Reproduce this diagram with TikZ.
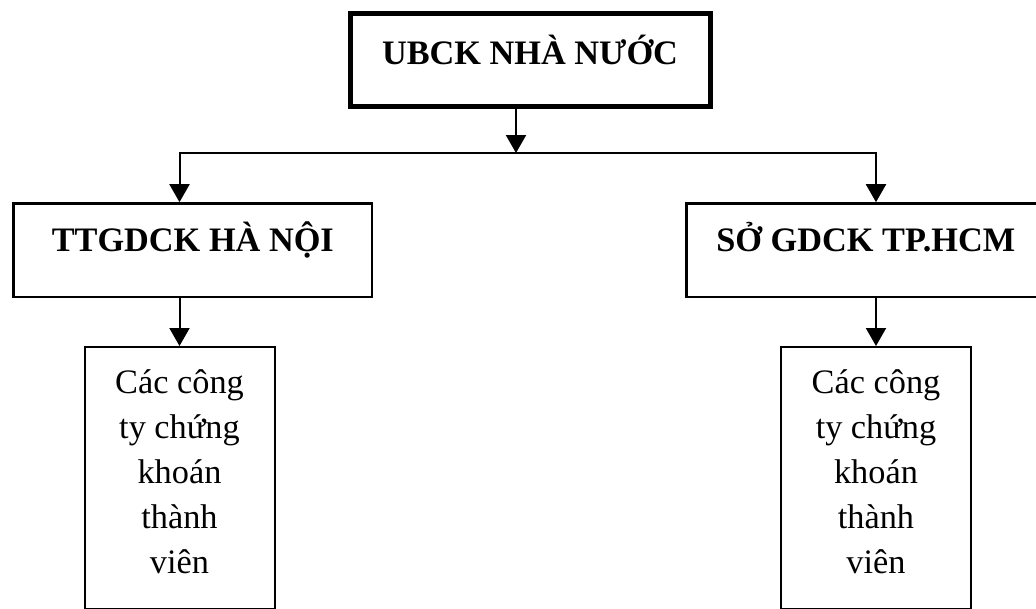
\documentclass[tikz,border=0pt]{standalone}
\usepackage{fontspec}
\setmainfont{Liberation Serif}
\usetikzlibrary{arrows.meta,positioning}

\begin{document}
\begin{tikzpicture}[x=1pt, y=-1pt, inner sep=0pt,
    head/.style={draw, line width=5pt, minimum width=360pt, text height=51.5pt, text depth=41.5pt, font=\fontsize{34.3}{40}\selectfont\bfseries},
    exchange/.style={draw, line width=2.5pt, minimum width=358.5pt, text height=47.8pt, text depth=45.8pt, font=\fontsize{34.3}{40}\selectfont\bfseries},
    member/.style={draw, line width=2pt, minimum width=190pt, minimum height=262pt},
    membertext/.style={align=center, font=\fontsize{34.3}{45}\selectfont},
    link/.style={line width=2pt, -{Triangle[length=18pt,width=20pt]}} ]
    \useasboundingbox (0,0) rectangle (1036,608);

    \node[head, anchor=north west] (ubck) at (347.5,10.5) {UBCK NHÀ NƯỚC};
    \node[exchange, anchor=north west] (hanoi) at (12.3,202.2) {TTGDCK HÀ NỘI};
    \node[exchange, anchor=north west] (hcm) at (685.3,202.2) {SỞ GDCK TP.HCM};
    \node[member, anchor=north] (memA) at (179.5,346) {};
    \node[member, anchor=north] (memB) at (876,346) {};
    \node[membertext, anchor=base] (memAtext) at ([yshift=-227pt]memA.north) {Các công\\ty chứng\\khoán\\thành\\viên};
    \node[membertext, anchor=base] (memBtext) at ([yshift=-227pt]memB.north) {Các công\\ty chứng\\khoán\\thành\\viên};
    \coordinate (split) at (516,153);

    \draw[link] (ubck.south -| split) -- (split);
    \draw[link] (split) -| (memA.north |- hanoi.north);
    \draw[link] (split) -| (memB.north |- hcm.north);
    \draw[link] (memA.north |- hanoi.south) -- (memA.north);
    \draw[link] (memB.north |- hcm.south) -- (memB.north);
\end{tikzpicture}
\end{document}
